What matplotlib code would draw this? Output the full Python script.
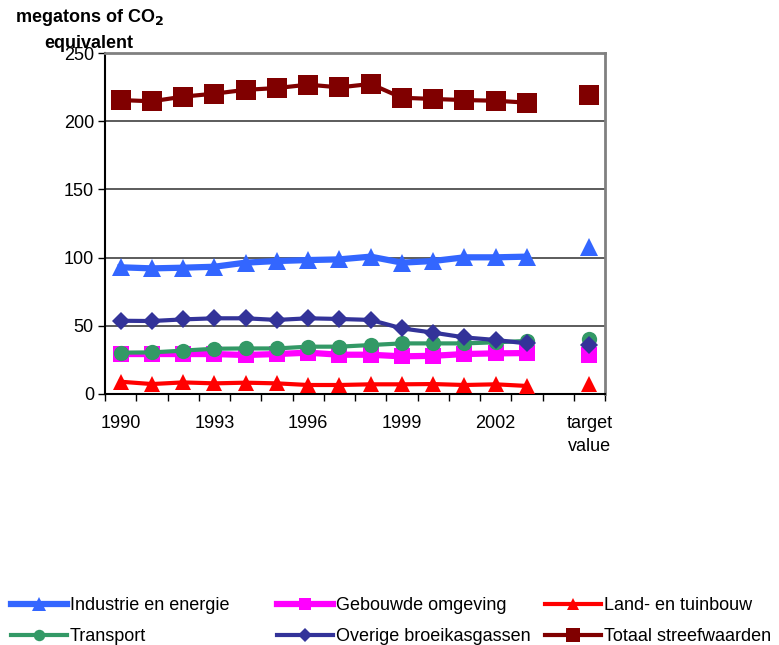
import numpy as np
import matplotlib.pyplot as plt

plt.rcParams['font.family'] = ['Liberation Sans', 'DejaVu Sans']

# 1990-2003, one empty slot, then the target value
categories = [str(y) for y in range(1990, 2004)] + ['', 'target\nvalue']
shown_labels = ['1990', '1993', '1996', '1999', '2002', 'target\nvalue']

industrie = [92.9, 92.1, 92.6, 93.3, 96.3, 97.5, 98.2, 98.7, 100.7, 96.3, 97.5, 100.2, 100.2, 100.7, np.nan, 108.0]
gebouwd = [29.3, 29.3, 29.3, 29.3, 28.6, 29.3, 30.3, 28.8, 28.8, 27.6, 28.0, 29.3, 29.8, 30.0, np.nan, 28.5]
land = [9.0, 7.3, 8.5, 7.8, 8.3, 7.8, 6.6, 6.6, 7.1, 7.1, 7.3, 6.6, 7.1, 5.9, np.nan, 7.5]
transport = [30.3, 30.5, 31.8, 33.2, 33.4, 33.4, 34.7, 34.7, 35.9, 37.1, 37.1, 37.1, 37.9, 38.9, np.nan, 40.0]
overige = [53.7, 53.5, 54.7, 55.5, 55.5, 54.3, 55.5, 55.0, 54.3, 48.1, 45.0, 41.5, 39.6, 37.1, np.nan, 35.9]
totaal = [215.5, 214.6, 218.0, 220.2, 223.0, 224.3, 226.8, 224.8, 227.3, 217.2, 216.3, 215.5, 215.0, 213.6, np.nan, 219.5]

series = [
    ('Industrie en energie', industrie, '#3366FF', '^', 13, 4.5),
    ('Gebouwde omgeving', gebouwd, '#FF00FF', 's', 11, 4.5),
    ('Land- en tuinbouw', land, '#FF0000', '^', 11, 3.0),
    ('Transport', transport, '#339966', 'o', 11, 3.0),
    ('Overige broeikasgassen', overige, '#333399', 'D', 9, 3.0),
    ('Totaal streefwaarden', totaal, '#800000', 's', 14, 3.0),
]

fig = plt.figure(figsize=(7.79, 6.45), dpi=100)
ax = fig.add_axes([105 / 779, 1 - 394 / 645, 500 / 779, 341 / 645])

x = np.arange(len(categories))
lines = []
for name, vals, color, marker, ms, lw in series:
    ln, = ax.plot(x, vals, color=color, marker=marker, markersize=ms,
                  linewidth=lw, markeredgewidth=0, label=name, zorder=3)
    lines.append(ln)

ax.set_xlim(-0.5, len(categories) - 0.5)
ax.set_ylim(0, 250)
ax.set_yticks(np.arange(0, 251, 50))
ax.yaxis.grid(True, color='#404040', linewidth=1.2)
ax.set_axisbelow(True)

# tick marks on category boundaries, labels in the middle of categories
ax.set_xticks(np.arange(-0.5, len(categories)), labels=[])
label_pos = [categories.index(lab) for lab in shown_labels]
ax.set_xticks(label_pos, labels=shown_labels, minor=True)
ax.tick_params(axis='x', which='major', direction='out', length=5, width=1)
ax.tick_params(axis='x', which='minor', length=0, pad=15, labelsize=13)
ax.tick_params(axis='y', direction='out', length=5, width=1, labelsize=13, pad=3)
for lab in ax.get_xticklabels(minor=True):
    lab.set_linespacing(1.5)

ax.spines['left'].set_linewidth(1.5)
ax.spines['bottom'].set_linewidth(1.5)
for side in ('top', 'right'):
    ax.spines[side].set_color('#808080')
    ax.spines[side].set_linewidth(2)

fig.text(89 / 779, 1 - 7 / 645, 'megatons of CO$_\\mathbf{2}$\nequivalent',
         ha='center', va='top', fontsize=13, fontweight='bold', linespacing=1.5)

# three legend columns at fixed positions along the bottom
col_x = [11, 277, 545]
for i, cx in enumerate(col_x):
    handles = [lines[i], lines[i + 3]]
    fig.legend(handles=handles, loc='upper left',
               bbox_to_anchor=(cx / 779, 1 - 597 / 645),
               frameon=False, fontsize=13, borderpad=0, borderaxespad=0,
               handlelength=3.1, handletextpad=0.15, labelspacing=0.78,
               markerscale=0.75)

fig.savefig('out.png', dpi=100)
